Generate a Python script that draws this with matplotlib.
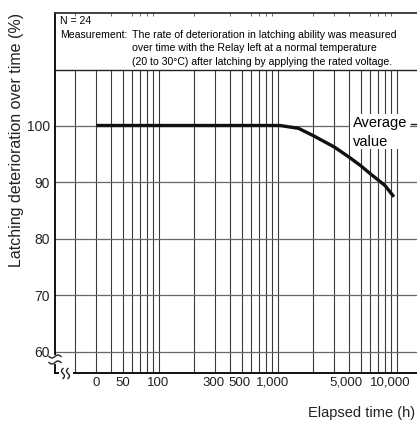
import numpy as np
import matplotlib
matplotlib.use("Agg")
import matplotlib.pyplot as plt
from matplotlib.lines import Line2D
from matplotlib.patches import Rectangle
import matplotlib.transforms as mtransforms

plt.rcParams['font.family'] = ['Liberation Sans', 'DejaVu Sans']

# data
time_h = [30, 1050, 1500, 2000, 3000, 4000, 5000, 6000, 8000, 9500]
latching = [100, 100, 99.5, 98.2, 96.2, 94.4, 92.9, 91.5, 89.4, 87.4]
grid_x = [20, 30, 40, 50, 60, 70, 80, 90, 100,
          200, 300, 400, 500, 600, 700, 800, 900, 1000,
          2000, 3000, 4000, 5000, 6000, 7000, 8000, 9000, 10000]
grid_y = [60, 70, 80, 90, 100]
xtick_vals = [30, 50, 100, 300, 500, 1000, 5000, 10000]
xtick_labels = ['0', '50', '100', '300', '500', '1,000', '5,000', '10,000']
header_lines = ["The rate of deterioration in latching ability was measured",
                "over time with the Relay left at a normal temperature",
                "(20 to 30\u00b0C) after latching by applying the rated voltage."]

W, H = 417, 421
fig = plt.figure(figsize=(W / 100, H / 100), dpi=100)
ax_l, ax_b, ax_t = 55, 373.3, 12.7
ax = fig.add_axes([ax_l / W, 1 - ax_b / H, (W - ax_l) / W, (ax_b - ax_t) / H])

y_lo, y_hi = 56.22, 119.93
header_y = 109.8
ax.set_xscale('log')
ax.set_xlim(13.5, 14860)
ax.set_ylim(y_lo, y_hi)

gcol = '#3a3a3a'
ax.vlines(grid_x, y_lo, header_y, color=gcol, lw=0.8, zorder=1)
ax.hlines(grid_y, 13.5, 14860, color='#666666', lw=0.9, zorder=1)
ax.axhline(header_y, color='#222222', lw=1.0, zorder=2)

ax.plot(time_h, latching, color='#111111', lw=2.4, solid_capstyle='butt', zorder=3)

ax.set_xticks(xtick_vals)
ax.set_xticklabels(xtick_labels)
ax.set_xticks(grid_x, minor=True)
ax.xaxis.set_minor_formatter(plt.NullFormatter())
ax.set_yticks(grid_y)
ax.tick_params(axis='both', which='major', length=0, labelsize=10, colors='#222222')
ax.tick_params(axis='x', which='major', pad=2.5, labelsize=9.5)
ax.tick_params(axis='y', which='major', pad=3.6)
ax.tick_params(axis='x', which='minor', bottom=False, top=True, direction='in',
               length=2, width=0.6, color='#555555')
# labels sit a little left of their lines in the original
label_shift_px = [0, 0, 0, -2, -2, -5, -15, -6]
for lab, dx in zip(ax.get_xticklabels(), label_shift_px):
    lab.set_transform(lab.get_transform() + mtransforms.ScaledTranslation(dx / 100, 0, fig.dpi_scale_trans))

ax.spines['right'].set_visible(False)
ax.spines['left'].set_linewidth(1.3)
ax.spines['bottom'].set_linewidth(1.3)
ax.spines['top'].set_linewidth(1.3)
ax.spines['top'].set_color('#333333')

# header text
hfs = 7.6
fig.text(60 / W, 1 - 21.5 / H, "N = 24", fontsize=hfs, va='center', ha='left')
fig.text(60 / W, 1 - 35 / H, "Measurement:", fontsize=hfs, va='center', ha='left')
for i, line in enumerate(header_lines):
    fig.text(132 / W, 1 - (35 + 13.3 * i) / H, line, fontsize=hfs, va='center', ha='left')

# average value label
fig.patches.append(Rectangle((350 / W, 1 - 149 / H), 60 / W, 35 / H, transform=fig.transFigure,
                             facecolor='white', edgecolor='none', zorder=5))
fig.text(353 / W, 1 - 123 / H, "Average", fontsize=10.5, va='center', ha='left', zorder=6)
fig.text(353 / W, 1 - 141.5 / H, "value", fontsize=10.5, va='center', ha='left', zorder=6)
fig.add_artist(Line2D([411 / W, 416 / W], [1 - 124 / H, 1 - 124 / H], color='#222222', lw=1,
                      transform=fig.transFigure, zorder=6))

# axis labels
fig.text(17 / W, 1 - 140 / H, "Latching deterioration over time (%)", rotation=90,
         fontsize=11.5, va='center', ha='center', color='#222222')
fig.text(415 / W, 1 - 412.5 / H, "Elapsed time (h)", fontsize=10.5, va='center', ha='right',
         color='#222222')

# axis break marks
def px_line(xs, ys, **kw):
    fig.add_artist(Line2D(np.asarray(xs) / W, 1 - np.asarray(ys) / H,
                          transform=fig.transFigure, **kw))

fig.patches.append(Rectangle((52 / W, 1 - 364 / H), 6 / W, 9 / H, transform=fig.transFigure,
                             facecolor='white', edgecolor='none', zorder=7))
fig.patches.append(Rectangle((59 / W, 1 - 376 / H), 14 / W, 6 / H, transform=fig.transFigure,
                             facecolor='white', edgecolor='none', zorder=7))
t = np.linspace(-1, 1, 30)
for cy in (356.5, 362.5):
    px_line(55 + 6 * t, cy - 1.5 * np.sin(np.pi * t), color='#222222', lw=1.0, zorder=8)
for cx in (63, 68):
    px_line(cx + 1.5 * np.sin(np.pi * t), 373.5 + 5 * t, color='#222222', lw=1.0, zorder=8)

fig.savefig('out.png', dpi=100)
